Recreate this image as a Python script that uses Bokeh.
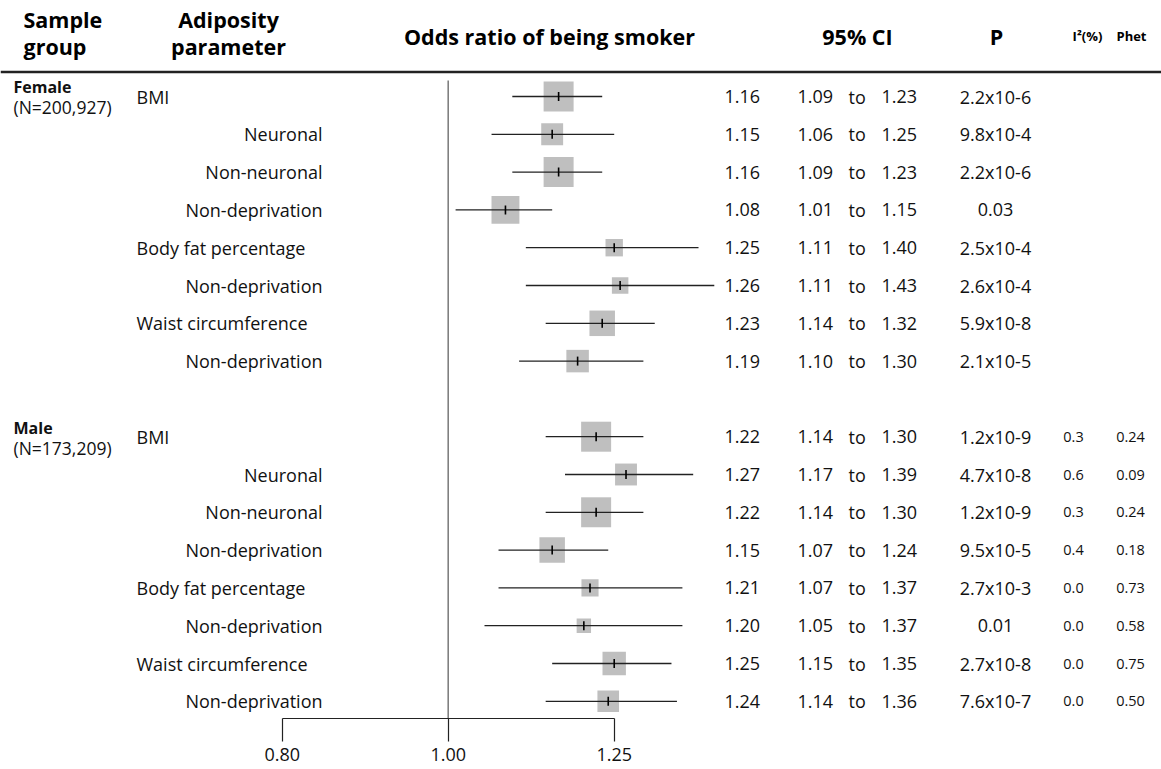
import numpy as np
from bokeh.plotting import figure
from bokeh.models import Range1d, ColumnDataSource, FixedTicker, CustomJSTickFormatter, LinearScale
from bokeh.core.properties import value
from bokeh.embed import file_html
from bokeh.resources import INLINE

# ---------------- data ----------------
groups = ["Female", "Male"]
group_n = ["(N=200,927)", "(N=173,209)"]
params = ["BMI", "Neuronal", "Non-neuronal", "Non-deprivation",
          "Body fat percentage", "Non-deprivation",
          "Waist circumference", "Non-deprivation"]
is_sub = [False, True, True, True, False, True, False, True]

female_or = [1.16, 1.15, 1.16, 1.08, 1.25, 1.26, 1.23, 1.19]
female_lo = [1.09, 1.06, 1.09, 1.01, 1.11, 1.11, 1.14, 1.10]
female_hi = [1.23, 1.25, 1.23, 1.15, 1.40, 1.43, 1.32, 1.30]
female_p = ["2.2x10-6", "9.8x10-4", "2.2x10-6", "0.03",
            "2.5x10-4", "2.6x10-4", "5.9x10-8", "2.1x10-5"]
female_i2 = ["", "", "", "", "", "", "", ""]
female_phet = ["", "", "", "", "", "", "", ""]
female_weight = [1.0, 0.73, 1.0, 0.93, 0.58, 0.55, 0.85, 0.75]

male_or = [1.22, 1.27, 1.22, 1.15, 1.21, 1.20, 1.25, 1.24]
male_lo = [1.14, 1.17, 1.14, 1.07, 1.07, 1.05, 1.15, 1.14]
male_hi = [1.30, 1.39, 1.30, 1.24, 1.37, 1.37, 1.35, 1.36]
male_p = ["1.2x10-9", "4.7x10-8", "1.2x10-9", "9.5x10-5",
          "2.7x10-3", "0.01", "2.7x10-8", "7.6x10-7"]
male_i2 = ["0.3", "0.6", "0.3", "0.4", "0.0", "0.0", "0.0", "0.0"]
male_phet = ["0.24", "0.09", "0.24", "0.18", "0.73", "0.58", "0.75", "0.50"]
male_weight = [1.0, 0.73, 1.0, 0.85, 0.57, 0.48, 0.78, 0.72]

axis_ticks = [0.80, 1.00, 1.25]
headers_left = ["Sample", "group"]
headers_param = ["Adiposity", "parameter"]
header_or = "Odds ratio of being smoker"
header_ci = "95% CI"
header_p = "P"
header_i2 = "I\u00b2(%)"
header_phet = "Phet"

# ---------------- table build ----------------
n = len(params)
rows = list(range(n)) + list(range(n + 1, 2 * n + 1))
src = ColumnDataSource(dict(
    row=rows,
    param=params + params,
    sub=is_sub + is_sub,
    orv=female_or + male_or,
    lo=female_lo + male_lo,
    hi=female_hi + male_hi,
    p=female_p + male_p,
    i2=female_i2 + male_i2,
    phet=female_phet + male_phet,
    w=female_weight + male_weight,
))
d = src.data
d["or_txt"] = ["%.2f" % v for v in d["orv"]]
d["lo_txt"] = ["%.2f" % v for v in d["lo"]]
d["hi_txt"] = ["%.2f" % v for v in d["hi"]]
d["to"] = ["to"] * len(rows)
d["box"] = [w * 30 for w in d["w"]]
d["lab_x"] = [322 if s else 136 for s in d["sub"]]
d["lab_align"] = ["right" if s else "left" for s in d["sub"]]

FONT = value("Open Sans")
TXT = "#111111"

# pixel geometry (layout)
W = 1161
TOP = 4            # reference pixel shown at the top edge of the frame
AXIS_Y = 722       # reference pixel of the axis line
FRAME_H = AXIS_Y - TOP
PX_PER_DEC = 1713.0
X_ONE = 447.7
xr = Range1d(10 ** ((0 - X_ONE) / PX_PER_DEC), 10 ** ((W - X_ONE) / PX_PER_DEC))
ROW0, ROWH = 100.0, 37.8
yr = Range1d((AXIS_Y - ROW0) / ROWH, (TOP - ROW0) / ROWH)

p = figure(frame_width=W, frame_height=FRAME_H, x_axis_type="log",
           x_range=xr, y_range=yr, output_backend="svg",
           toolbar_location=None, min_border=0, y_axis_location=None)
p.min_border_bottom = 48
p.extra_x_ranges = {"cols": Range1d(0, W)}
p.extra_x_scales = {"cols": LinearScale()}
p.extra_y_ranges = {"px": Range1d(AXIS_Y, TOP)}
p.extra_y_scales = {"px": LinearScale()}
p.outline_line_color = None
p.grid.visible = False
p.background_fill_color = "white"
p.border_fill_color = "white"

ax = p.xaxis[0]
ax.ticker = FixedTicker(ticks=axis_ticks, minor_ticks=[])
ax.bounds = (axis_ticks[0], axis_ticks[-1])
ax.formatter = CustomJSTickFormatter(code="return tick.toFixed(2)")
ax.major_tick_out = 23
ax.major_tick_in = 0
ax.minor_tick_out = 0
ax.minor_tick_in = 0
ax.major_label_standoff = 6
ax.axis_line_color = "#222222"
ax.major_tick_line_color = "#222222"
ax.axis_line_width = 1.2
ax.major_tick_line_width = 1.2
ax.major_label_text_font = "Open Sans"
ax.major_label_text_font_size = "18px"
ax.major_label_text_color = TXT

# reference line at OR = 1
p.segment(x0=[1.0], x1=[1.0], y0=[(84 - ROW0) / ROWH], y1=[(AXIS_Y - ROW0) / ROWH],
          line_color="#808080", line_width=1.6)

# header rule
p.segment(x0=[0], x1=[W], y0=[75.5], y1=[75.5], x_range_name="cols",
          y_range_name="px", line_color="#222222", line_width=2.6)

# boxes, CI and estimate ticks
p.scatter(x="orv", y="row", size="box", marker="square", source=src,
          fill_color="#bfbfbf", line_color=None)
p.segment(x0="lo", x1="hi", y0="row", y1="row", source=src,
          line_color="#222222", line_width=1.3)
p.scatter(x="orv", y="row", marker="dash", angle=np.pi / 2, size=9, source=src,
          line_color="#000000", line_width=1.6)

# row labels
p.text(x="lab_x", y="row", text="param", text_align="lab_align", source=src,
       x_range_name="cols", text_baseline="middle", text_font=FONT,
       text_font_size="18px", text_color=TXT)

# numeric columns
common = dict(source=src, x_range_name="cols", text_baseline="middle",
              text_font=FONT, text_color=TXT)
p.text(x=724, y="row", text="or_txt", text_align="left", text_font_size="18px", **common)
p.text(x=797, y="row", text="lo_txt", text_align="left", text_font_size="18px", **common)
p.text(x=848, y="row", text="to", text_align="left", text_font_size="18px", **common)
p.text(x=881, y="row", text="hi_txt", text_align="left", text_font_size="18px", **common)
p.text(x=995, y="row", text="p", text_align="center", text_font_size="18px", **common)
p.text(x=1073, y="row", text="i2", text_align="center", text_font_size="14.5px", **common)
p.text(x=1130, y="row", text="phet", text_align="center", text_font_size="14.5px", **common)

# sample group labels
first_rows = [0, n + 1]
p.text(x=[13, 13], y=[r - 0.24 for r in first_rows], text=groups, x_range_name="cols",
       text_baseline="middle", text_font=FONT, text_font_size="16px",
       text_font_style="bold", text_color=TXT)
p.text(x=[13, 13], y=[r + 0.29 for r in first_rows], text=group_n, x_range_name="cols",
       text_baseline="middle", text_font=FONT, text_font_size="17.5px", text_color=TXT)

# headers
hdr = dict(x_range_name="cols", y_range_name="px", text_baseline="middle",
           text_font=FONT, text_font_style="bold", text_color="#000000")
p.text(x=[23, 23], y=[23, 50], text=headers_left, text_align="left",
       text_font_size="21.5px", **hdr)
p.text(x=[228, 228], y=[23, 50], text=headers_param, text_align="center",
       text_font_size="21.5px", **hdr)
p.text(x=[549, 857, 996], y=[40, 40, 40], text=[header_or, header_ci, header_p],
       text_align="center", text_font_size="21.5px", **hdr)
p.text(x=[1087, 1131], y=[39, 39], text=[header_i2, header_phet],
       text_align="center", text_font_size="13px", **hdr)

open("out.html", "w").write(file_html(p, INLINE))
